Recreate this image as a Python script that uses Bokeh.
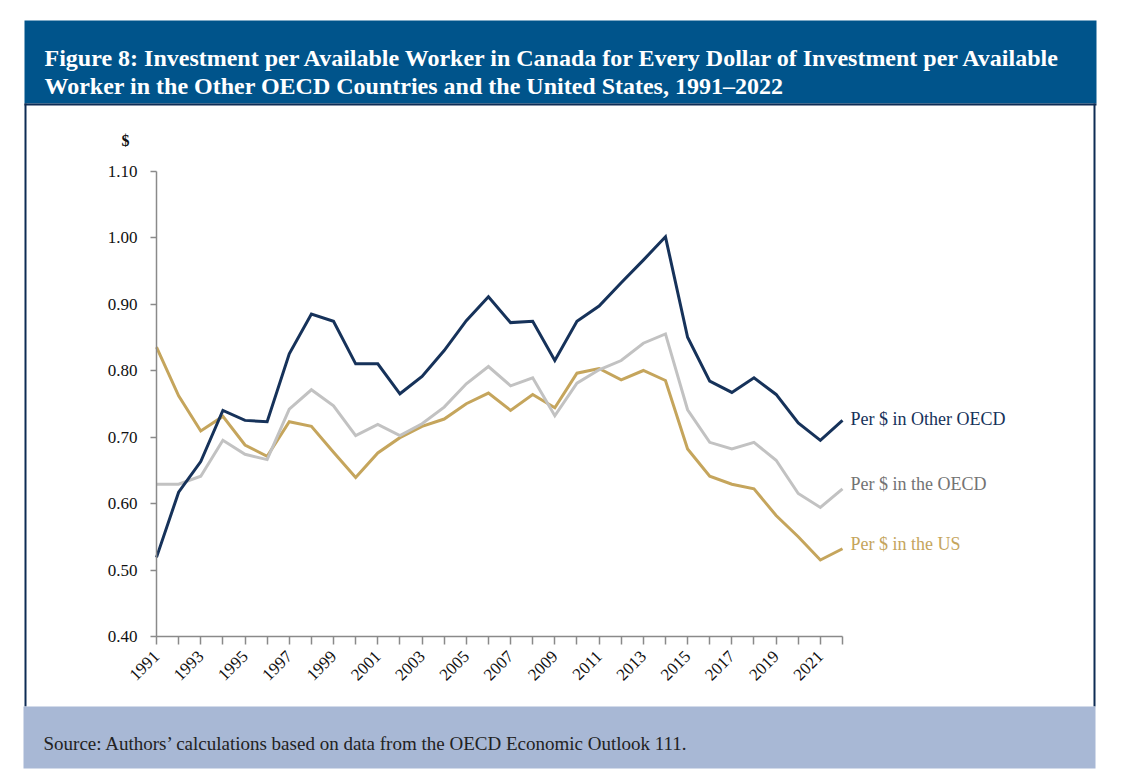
from bokeh.plotting import figure
from bokeh.models import (FixedTicker, Range1d, ColumnDataSource, PrintfTickFormatter)
from bokeh.core.properties import value
from bokeh.embed import file_html
from bokeh.resources import INLINE
import math

# ---------------- data ----------------
years = list(range(1991, 2023))
other_oecd = [0.519, 0.617, 0.663, 0.740, 0.725, 0.723, 0.825, 0.885, 0.874, 0.810,
              0.810, 0.765, 0.791, 0.830, 0.875, 0.911, 0.872, 0.874, 0.815, 0.874,
              0.897, 0.932, 0.966, 1.001, 0.850, 0.784, 0.767, 0.789, 0.764, 0.721,
              0.695, 0.725]
oecd = [0.629, 0.629, 0.641, 0.695, 0.674, 0.666, 0.742, 0.771, 0.747, 0.702,
        0.719, 0.702, 0.720, 0.745, 0.780, 0.806, 0.777, 0.789, 0.732, 0.781,
        0.801, 0.815, 0.841, 0.855, 0.741, 0.692, 0.682, 0.692, 0.665, 0.615,
        0.594, 0.622]
us = [0.835, 0.762, 0.709, 0.731, 0.688, 0.671, 0.723, 0.716, 0.677, 0.639,
      0.676, 0.699, 0.716, 0.727, 0.750, 0.766, 0.740, 0.764, 0.744, 0.796,
      0.803, 0.786, 0.800, 0.785, 0.682, 0.641, 0.629, 0.622, 0.582, 0.550,
      0.515, 0.532]
series_names = ["Per $ in Other OECD", "Per $ in the OECD", "Per $ in the US"]
y_ticks = [0.40, 0.50, 0.60, 0.70, 0.80, 0.90, 1.00, 1.10]
x_label_years = list(range(1991, 2022, 2))
y_unit = "$"

title_lines = ["Figure 8: Investment per Available Worker in Canada for Every Dollar of Investment per Available",
               "Worker in the Other OECD Countries and the United States, 1991\u20132022"]
source_text = "Source: Authors\u2019 calculations based on data from the OECD Economic Outlook 111."

# ---------------- styling / layout ----------------
FONT = "Liberation Serif"
NAVY = "#16325A"
GRAY = "#C2C2C2"
GOLD = "#C5A55C"
BAR = "#00548B"
EDGE = "#0E2C55"
FOOT = "#A8B8D5"

W, H = 1110, 776
# pixel positions of the plotting area (where the first/last year and the
# lowest/highest tick fall)
FL, FR, FT, FB = 156.0, 842.0, 170.5, 636.0
x0v, x1v = years[0], years[-1]
y0v, y1v = y_ticks[0], y_ticks[-1]
sx = (FR - FL) / (x1v - x0v)
sy = (FB - FT) / (y1v - y0v)
x_range = Range1d(x0v - FL / sx, x0v + (W - FL) / sx)
y_range = Range1d(y0v - (H - FB) / sy, y1v + FT / sy)

p = figure(width=W, height=H, output_backend="svg", toolbar_location=None,
           x_range=x_range, y_range=y_range,
           min_border=0, min_border_left=0, min_border_right=0,
           min_border_top=0, min_border_bottom=0)
p.extra_x_ranges = {"px": Range1d(0, W)}
p.extra_y_ranges = {"px": Range1d(H, 0)}
p.outline_line_color = None
p.grid.visible = False
p.background_fill_color = "white"
p.border_fill_color = "white"

# ---------------- decorations (pixel range) ----------------
deco = dict(
    left=[24, 24, 24, 1093, 23],
    right=[1096, 1096, 26, 1095, 1095],
    top=[20, 103, 103, 103, 706],
    bottom=[103, 105, 706, 706, 768],
    color=[BAR, EDGE, EDGE, EDGE, FOOT],
)
p.quad(left="left", right="right", top="top", bottom="bottom", color="color",
       source=ColumnDataSource(deco), x_range_name="px", y_range_name="px",
       line_color=None)

def text(xs, ys, strings, size, colors, style="normal", align="left", baseline="alphabetic"):
    p.text(x=xs, y=ys, text=strings, text_font=value(FONT), text_font_size=size,
           text_color=colors, text_font_style=style, text_align=align,
           text_baseline=baseline, x_range_name="px", y_range_name="px")

text([44, 44], [57, 85], title_lines, "24px", "white", style="bold")
text([43], [743], [source_text], "19px", "#222222")
text([125], [140], [y_unit], "16px", "#111111", style="bold", align="center", baseline="middle")
text([850, 850, 850], [418, 483, 543], series_names, "18px",
     [NAVY, "#737373", GOLD], baseline="middle")

# ---------------- data lines ----------------
src = ColumnDataSource(dict(year=years, other=other_oecd, oecd=oecd, us=us))
p.line("year", "us", source=src, line_color=GOLD, line_width=3, line_join="miter")
p.line("year", "oecd", source=src, line_color=GRAY, line_width=3, line_join="miter")
p.line("year", "other", source=src, line_color=NAVY, line_width=3, line_join="miter")

# ---------------- axes ----------------
for ax in (p.xaxis[0], p.yaxis[0]):
    ax.axis_line_color = "#8A8A8A"
    ax.axis_line_width = 1.5
    ax.major_tick_line_color = "#8A8A8A"
    ax.major_tick_line_width = 1.5
    ax.major_tick_in = 0
    ax.minor_tick_line_color = None
    ax.major_label_text_font = FONT
    ax.major_label_text_color = "#111111"

p.yaxis.fixed_location = x0v
p.yaxis.bounds = (y0v, y1v)
p.yaxis.ticker = FixedTicker(ticks=y_ticks)
p.yaxis.formatter = PrintfTickFormatter(format="%.2f")
p.yaxis.major_tick_out = 6
p.yaxis.major_label_standoff = 13
p.yaxis.major_label_text_font_size = "17px"

p.xaxis.fixed_location = y0v
p.xaxis.bounds = (x0v, x1v)
p.xaxis.ticker = FixedTicker(ticks=years)
p.xaxis.major_label_overrides = {y: (str(y) if y in x_label_years else "") for y in years}
p.xaxis.major_tick_out = 8
p.xaxis.major_label_orientation = math.pi / 4
p.xaxis.major_label_standoff = 9
p.xaxis.major_label_text_font_size = "17px"

open("out.html", "w").write(file_html(p, INLINE))
